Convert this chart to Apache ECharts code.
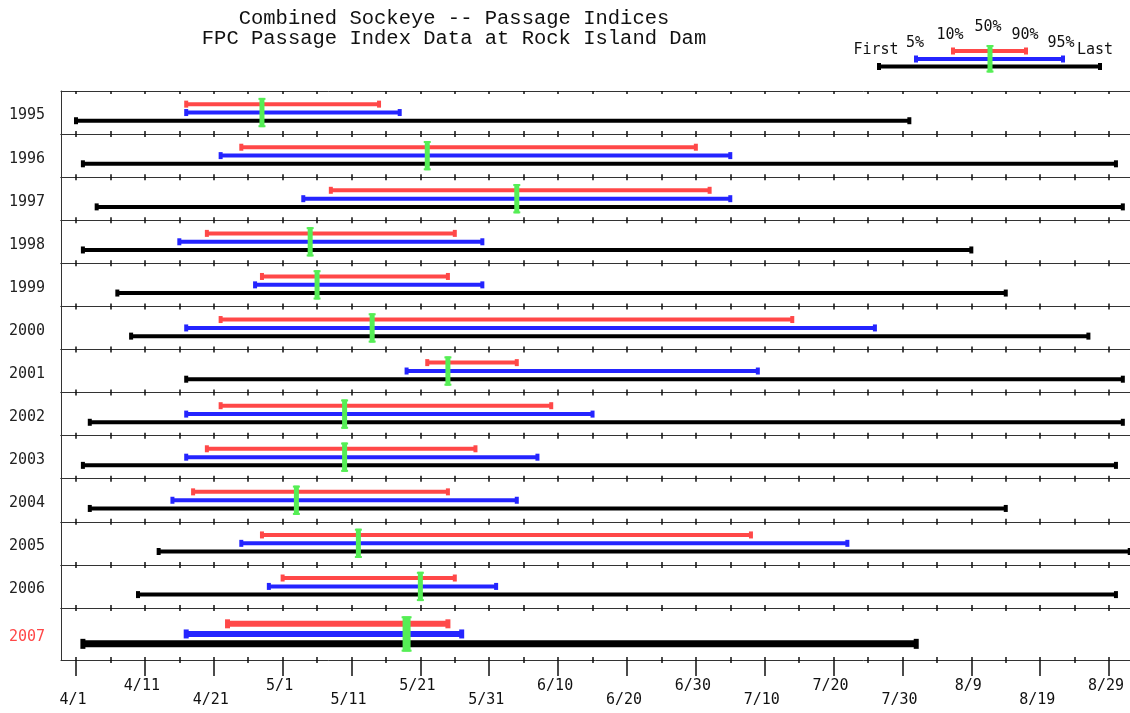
<!DOCTYPE html>
<html>
<head>
<meta charset="utf-8">
<script src="https://cdn.jsdelivr.net/npm/echarts@6/dist/echarts.min.js"></script>
<style>
  html, body { margin: 0; padding: 0; background: #fff; }
  #chart { width: 1130px; height: 713px; }
</style>
</head>
<body>
<div id="chart"></div>
<script>
// Passage index dates per year (month/day)
const years     = ['1995','1996','1997','1998','1999','2000','2001','2002','2003','2004','2005','2006','2007'];
const firstDate = ['4/1', '4/2', '4/4', '4/2', '4/7', '4/9', '4/17','4/3', '4/2', '4/3', '4/13','4/10','4/2'];
const p05Date   = ['4/17','4/22','5/4', '4/16','4/27','4/17','5/19','4/17','4/17','4/15','4/25','4/29','4/17'];
const p10Date   = ['4/17','4/25','5/8', '4/20','4/28','4/22','5/22','4/22','4/20','4/18','4/28','5/1', '4/23'];
const p50Date   = ['4/28','5/22','6/4', '5/5', '5/6', '5/14','5/25','5/10','5/10','5/3', '5/12','5/21','5/19'];
const p90Date   = ['5/15','6/30','7/2', '5/26','5/25','7/14','6/4', '6/9', '5/29','5/25','7/8', '5/26','5/25'];
const p95Date   = ['5/18','7/5', '7/5', '5/30','5/30','7/26','7/9', '6/15','6/7', '6/4', '7/22','6/1', '5/27'];
const lastDate  = ['7/31','8/30','8/31','8/9', '8/14','8/26','8/31','8/31','8/30','8/14','9/1', '8/30','8/1'];
const currentYear = '2007';

const tickLabels   = ['4/1','4/11','4/21','5/1','5/11','5/21','5/31','6/10','6/20','6/30','7/10','7/20','7/30','8/9','8/19','8/29'];
const legendLabels = ['First','5%','10%','50%','90%','95%','Last'];
const titleLines   = ['Combined Sockeye -- Passage Indices', 'FPC Passage Index Data at Rock Island Dam'];

// day count from April 1
const monthStart = {4: 0, 5: 30, 6: 61, 7: 91, 8: 122, 9: 153};
function toDay(s) { const [m, d] = s.split('/').map(Number); return monthStart[m] + d - 1; }

const majorDays = tickLabels.map(toDay);
const labelByDay = {};
tickLabels.forEach(t => { labelByDay[toDay(t)] = t; });
const upperDays = majorDays.filter((d, i) => i % 2 === 1);
const lowerDays = majorDays.filter((d, i) => i % 2 === 0);
const allTickDays = [];
for (let d = 0; d <= 150; d += 5) allTickDays.push(d);
const minorDays = allTickDays.filter(d => d % 10 !== 0);

const COLORS = { red: '#ff4848', blue: '#2424ff', black: '#000000', green: '#55ee55' };
const X_MIN = -2.18, X_MAX = 155;
const PLOT_LEFT = 61, PLOT_WIDTH = 1082.5;
const ROW_TOP = 91, ROW_H = 43.08, LAST_ROW_H = 52;

// horizontal bar with square end caps
function barShapes(x1, x2, yc, t, color, capW, capH) {
  return [
    { type: 'rect', shape: { x: x1, y: yc - t / 2, width: x2 - x1, height: t }, style: { fill: color } },
    { type: 'rect', shape: { x: x1 - capW / 2, y: yc - capH / 2, width: capW, height: capH }, style: { fill: color } },
    { type: 'rect', shape: { x: x2 - capW / 2, y: yc - capH / 2, width: capW, height: capH }, style: { fill: color } }
  ];
}
// median marker: vertical bar with small flanges
function medianShapes(x, y1, y2, w, flangeW) {
  return [
    { type: 'rect', shape: { x: x - w / 2, y: y1, width: w, height: y2 - y1 }, style: { fill: COLORS.green } },
    { type: 'rect', shape: { x: x - flangeW / 2, y: y1, width: flangeW, height: 2 }, style: { fill: COLORS.green } },
    { type: 'rect', shape: { x: x - flangeW / 2, y: y2 - 2, width: flangeW, height: 2 }, style: { fill: COLORS.green } }
  ];
}

function renderRow(params, api) {
  const cat = api.value(7);
  const yc = api.coord([0, cat])[1];
  const band = api.size([0, 1])[1];
  const top = yc - band / 2;
  const emph = api.value(8) === 1;
  const t = emph ? 6 : 4, tb = emph ? 7 : 4;
  const capW = emph ? 5 : 4;
  const px = v => api.coord([v, cat])[0];
  const children = [].concat(
    barShapes(px(api.value(4)), px(api.value(5)), top + band * 0.305, t, COLORS.red, capW, t + 3),
    barShapes(px(api.value(2)), px(api.value(3)), top + band * 0.5, t, COLORS.blue, capW, t + 3),
    barShapes(px(api.value(0)), px(api.value(1)), top + band * 0.69, tb, COLORS.black, capW, tb + 3),
    medianShapes(px(api.value(6)), top + band * 0.16, top + band * 0.84, emph ? 8 : 5, emph ? 10 : 7)
  );
  return { type: 'group', children };
}

const axisLineStyle = { color: '#333', width: 1 };
const tickLineStyle = { color: '#111', width: 1.5 };
const grids = [], xAxes = [], yAxes = [], series = [];

years.forEach((yr, i) => {
  const isLast = i === years.length - 1;
  grids.push({
    left: PLOT_LEFT, width: PLOT_WIDTH,
    top: ROW_TOP + i * ROW_H, height: isLast ? LAST_ROW_H : ROW_H,
    outerBoundsMode: 'none', containLabel: false
  });
  ['top', 'bottom'].forEach(pos => {
    xAxes.push({
      gridIndex: i, type: 'value', min: X_MIN, max: X_MAX, position: pos,
      axisLine: { show: true, onZero: false, lineStyle: axisLineStyle },
      axisTick: { show: true, inside: true, length: 3, customValues: allTickDays, lineStyle: tickLineStyle },
      axisLabel: { show: false }, splitLine: { show: false }
    });
  });
  yAxes.push({
    gridIndex: i, type: 'category', data: [yr], inverse: true, position: 'left',
    axisLine: { show: true, onZero: false, lineStyle: axisLineStyle },
    axisTick: { show: false }, splitLine: { show: false },
    axisLabel: {
      margin: 16, fontFamily: 'DejaVu Sans Mono', fontSize: 15,
      formatter: v => (v === currentYear ? '{cur|' + v + '}' : '{yr|' + v + '}'),
      rich: {
        yr:  { color: '#222',    fontFamily: 'DejaVu Sans Mono', fontSize: 15, padding: [6, 0, 0, 0] },
        cur: { color: '#ff4848', fontFamily: 'DejaVu Sans Mono', fontSize: 15, padding: [6, 0, 0, 0] }
      }
    }
  });
  series.push({
    type: 'custom', coordinateSystem: 'cartesian2d',
    xAxisIndex: 2 * i, yAxisIndex: i,
    renderItem: renderRow,
    encode: { x: [0, 1, 2, 3, 4, 5, 6], y: 7 },
    data: [[
      toDay(firstDate[i]), toDay(lastDate[i]), toDay(p05Date[i]), toDay(p95Date[i]),
      toDay(p10Date[i]), toDay(p90Date[i]), toDay(p50Date[i]), yr, yr === currentYear ? 1 : 0
    ]],
    animation: false, silent: true
  });
});

// date axis below the last row: long ticks with staggered labels, short ticks between
const lastGrid = years.length - 1;
const labelStyle = {
  fontFamily: 'DejaVu Sans Mono', fontSize: 15, color: '#111',
  padding: [0, 6, 0, 0], formatter: v => labelByDay[v] || ''
};
xAxes.push({
  gridIndex: lastGrid, type: 'value', min: X_MIN, max: X_MAX, position: 'bottom',
  axisLine: { show: false, onZero: false },
  axisTick: { show: true, inside: false, length: 16, customValues: majorDays, lineStyle: tickLineStyle },
  axisLabel: Object.assign({ customValues: upperDays, margin: 19 }, labelStyle),
  splitLine: { show: false }
});
xAxes.push({
  gridIndex: lastGrid, type: 'value', min: X_MIN, max: X_MAX, position: 'bottom',
  axisLine: { show: false, onZero: false },
  axisTick: { show: true, inside: false, length: 3, customValues: minorDays, lineStyle: tickLineStyle },
  axisLabel: Object.assign({ customValues: lowerDays, margin: 33 }, labelStyle),
  splitLine: { show: false }
});

// key showing how a year's bars are read
function legendGraphic() {
  const els = [];
  const mk = shapes => shapes.forEach(s => els.push(Object.assign({}, s, { silent: true })));
  mk(barShapes(953, 1026, 51, 4, COLORS.red, 4, 7));
  mk(barShapes(916, 1063, 59, 4, COLORS.blue, 4, 7));
  mk(barShapes(879, 1100, 66.5, 4, COLORS.black, 4, 7));
  mk(medianShapes(990, 45, 72.5, 5, 7));
  const spots = [[876, 50], [915, 43], [950, 35], [988, 27], [1025, 35], [1061, 43], [1095, 50]];
  legendLabels.forEach((txt, k) => {
    els.push({
      type: 'text', x: spots[k][0], y: spots[k][1], silent: true,
      style: { text: txt, fill: '#111', font: '15px "DejaVu Sans Mono"', align: 'center', verticalAlign: 'middle' }
    });
  });
  return els;
}

const option = {
  backgroundColor: '#fff',
  animation: false,
  grid: grids,
  xAxis: xAxes,
  yAxis: yAxes,
  series: series,
  graphic: [
    {
      type: 'text', x: 454, y: 9, silent: true,
      style: {
        text: titleLines.join('\n'), fill: '#111', font: '20.5px "Liberation Mono"',
        align: 'center', verticalAlign: 'top', lineHeight: 20
      }
    }
  ].concat(legendGraphic())
};

const chart = echarts.init(document.getElementById('chart'), null, { renderer: 'canvas' });
chart.setOption(option);
</script>
</body>
</html>
